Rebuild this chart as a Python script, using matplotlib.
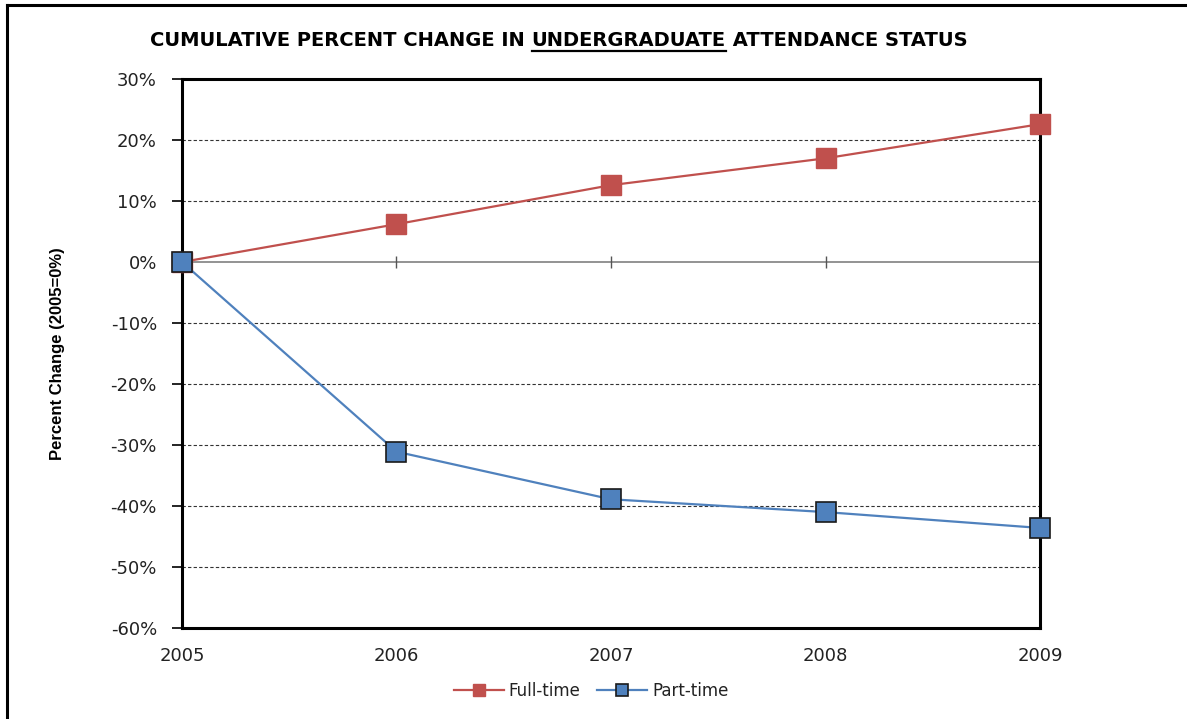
import matplotlib
matplotlib.use('Agg')
import matplotlib.pyplot as plt
from matplotlib.lines import Line2D
from matplotlib.ticker import FuncFormatter

# data
years = [2005, 2006, 2007, 2008, 2009]
full_time = [0.0, 6.2, 12.6, 17.0, 22.6]
part_time = [0.0, -31.1, -38.9, -41.0, -43.6]
yticks = [30, 20, 10, 0, -10, -20, -30, -40, -50, -60]

red = '#C0504D'
blue = '#4F81BD'
txt = '#222222'

plt.rcParams['font.family'] = ['DejaVu Sans']

fig = plt.figure(figsize=(11.87, 7.19), dpi=100)
ax = fig.add_axes([0.1533, 0.1266, 0.7229, 0.7635])

# gridlines (dashed) + solid zero line
for v in yticks:
    if v in (30, -60):
        continue
    if v == 0:
        ax.axhline(v, color='#808080', lw=1.2, zorder=1)
    else:
        ax.axhline(v, color='#333333', lw=0.8, ls=(0, (3, 2)), zorder=1)
# small cross ticks on the zero axis
ax.vlines(years[1:-1], -1.0, 1.0, color='#555555', lw=1.0, zorder=1)

ax.plot(years, full_time, color=red, lw=1.6, marker='s', ms=14,
        mfc=red, mec=red, clip_on=False, zorder=3, label='Full-time')
ax.plot(years, part_time, color=blue, lw=1.6, marker='s', ms=14,
        mfc=blue, mec='#1a1a1a', mew=1.2, clip_on=False, zorder=4, label='Part-time')

ax.set_xlim(2005, 2009)
ax.set_ylim(-60, 30)
ax.set_yticks(yticks)
ax.yaxis.set_major_formatter(FuncFormatter(lambda v, p: '%d%%' % v))
ax.set_xticks(years)
ax.set_xticklabels([str(y) for y in years])
ax.tick_params(axis='y', direction='out', length=7, width=1.2, pad=11,
               labelsize=13, labelcolor=txt)
ax.tick_params(axis='x', length=0, pad=14, labelsize=13, labelcolor=txt)

for s in ax.spines.values():
    s.set_linewidth(2.2)
    s.set_color('black')

ax.set_ylabel('Percent Change (2005=0%)', fontsize=12, fontweight='bold',
              family=['Liberation Sans'])
ax.yaxis.set_label_coords(-0.136, 0.5)

# title in pieces so the middle word can be underlined
ty = 1 - 40 / 719
tkw = dict(fontsize=14, fontweight='bold', va='center', ha='left', color='black')
t1 = fig.text(150 / 1187, ty, 'CUMULATIVE PERCENT CHANGE IN ', **tkw)
t2 = fig.text(0, 0, 'UNDERGRADUATE', **tkw)
fig.canvas.draw()
r = fig.canvas.get_renderer()
bb1 = t1.get_window_extent(r)
t2.set_position((bb1.x1 / fig.bbox.width, ty))
fig.canvas.draw()
bb2 = t2.get_window_extent(r)
t3 = fig.text(bb2.x1 / fig.bbox.width, ty, ' ATTENDANCE STATUS', **tkw)
uy = (bb2.y0 - 1) / fig.bbox.height
fig.add_artist(Line2D([bb2.x0 / fig.bbox.width, bb2.x1 / fig.bbox.width], [uy, uy],
                      transform=fig.transFigure, color='black', lw=1.6))

# outer frame (left and top edges visible)
fig.add_artist(Line2D([7 / 1187, 7 / 1187], [0, 1 - 5 / 719], transform=fig.transFigure,
                      color='black', lw=2.2))
fig.add_artist(Line2D([7 / 1187, 1], [1 - 5 / 719, 1 - 5 / 719], transform=fig.transFigure,
                      color='black', lw=2.2))

fig.legend(loc='center', bbox_to_anchor=(0.498, 0.039), ncol=2, frameon=False,
           fontsize=12, handlelength=3.0, markerscale=0.65, columnspacing=1.0,
           handletextpad=0.3, labelcolor=txt)

fig.savefig('out.png', dpi=100)
